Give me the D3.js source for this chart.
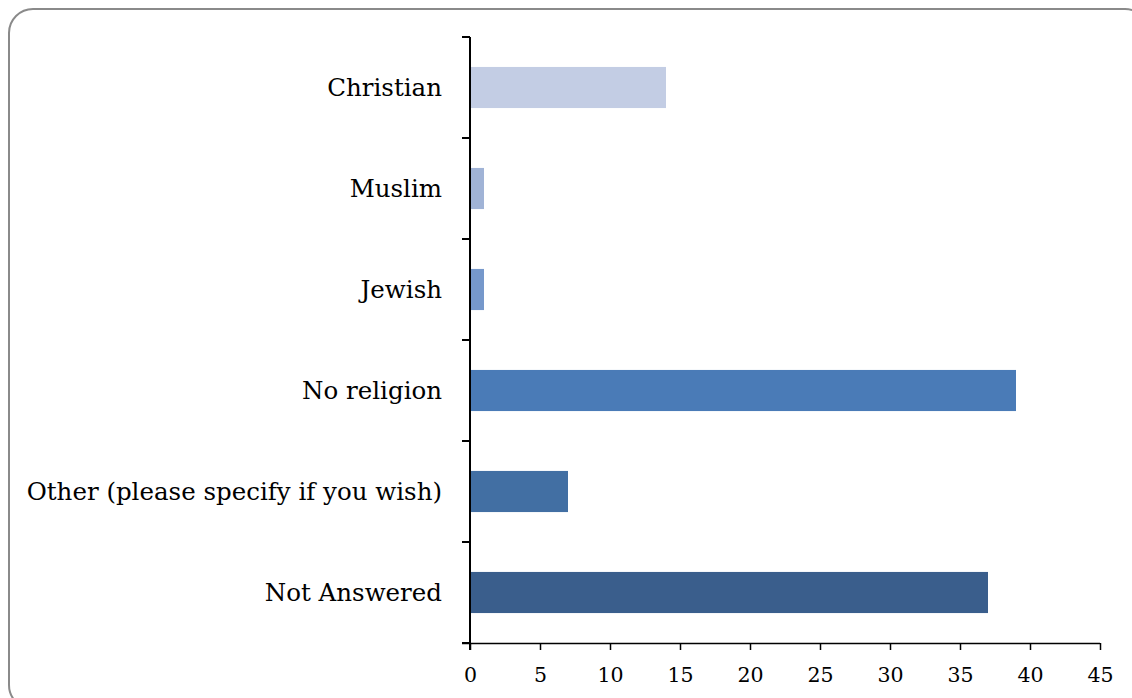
<!DOCTYPE html>
<html>
<head>
<meta charset="utf-8">
<script src="https://cdn.jsdelivr.net/npm/d3@7"></script>
<style>
  html, body { margin: 0; padding: 0; background: #fff; }
  svg { display: block; }
</style>
</head>
<body>
<svg id="chart" width="1132" height="698"></svg>
<script>
const categories = ["Christian", "Muslim", "Jewish", "No religion", "Other (please specify if you wish)", "Not Answered"];
const values = [14, 1, 1, 39, 7, 37];
const colors = ["#c3cde4", "#a0b3d6", "#7698cb", "#4a7bb7", "#426fa3", "#3a5e8c"];
const xTicks = [0, 5, 10, 15, 20, 25, 30, 35, 40, 45];

(function () {
const svg = d3.select("#chart");
const mLeft = 470, mRight = 1100, mTop = 37, mBottom = 643;
const labelFont = "'DejaVu Serif', 'Liberation Serif', serif";

// outer frame
svg.append("rect")
  .attr("x", 9).attr("y", 9)
  .attr("width", 1140).attr("height", 700)
  .attr("rx", 24).attr("ry", 24)
  .attr("fill", "#fff")
  .attr("stroke", "#8a8a8a")
  .attr("stroke-width", 2);

const x = d3.scaleLinear().domain([0, 45]).range([mLeft, mRight]);
const y = d3.scaleBand().domain(categories).range([mTop, mBottom])
  .paddingInner(0.593).paddingOuter(0.2965);

// bars
svg.append("g").selectAll("rect")
  .data(categories)
  .join("rect")
  .attr("x", x(0))
  .attr("y", d => y(d))
  .attr("width", (d, i) => x(values[i]) - x(0))
  .attr("height", y.bandwidth())
  .attr("fill", (d, i) => colors[i]);

// x axis
const xAxis = d3.axisBottom(x).tickValues(xTicks).tickSize(7).tickSizeOuter(0).tickPadding(17);
const gx = svg.append("g").attr("transform", `translate(0,${mBottom})`).call(xAxis);
gx.select(".domain").attr("stroke", "#000").attr("stroke-width", 1.5)
  .attr("d", `M${mLeft - 8},0.5H${mRight}`);
gx.selectAll(".tick line").attr("stroke", "#000").attr("stroke-width", 1.5);
gx.selectAll(".tick text")
  .attr("font-family", labelFont)
  .attr("font-size", 20.5)
  .attr("fill", "#000");

// y axis line
const step = y.step();
svg.append("line")
  .attr("x1", mLeft).attr("x2", mLeft)
  .attr("y1", mTop).attr("y2", mBottom + 7)
  .attr("stroke", "#000").attr("stroke-width", 2);

// y ticks at band boundaries
const boundaries = categories.map(c => y(c) - (step - y.bandwidth()) / 2).concat([mBottom]);
svg.append("g").selectAll("line")
  .data(boundaries)
  .join("line")
  .attr("x1", mLeft - 8).attr("x2", mLeft)
  .attr("y1", d => d).attr("y2", d => d)
  .attr("stroke", "#000").attr("stroke-width", 2);

// y labels
svg.append("g").selectAll("text")
  .data(categories)
  .join("text")
  .attr("x", mLeft - 28)
  .attr("y", d => y(d) + y.bandwidth() / 2)
  .attr("dy", "0.35em")
  .attr("text-anchor", "end")
  .attr("font-family", labelFont)
  .attr("font-size", 24.5)
  .attr("fill", "#000")
  .text(d => d);
})();
</script>
</body>
</html>
